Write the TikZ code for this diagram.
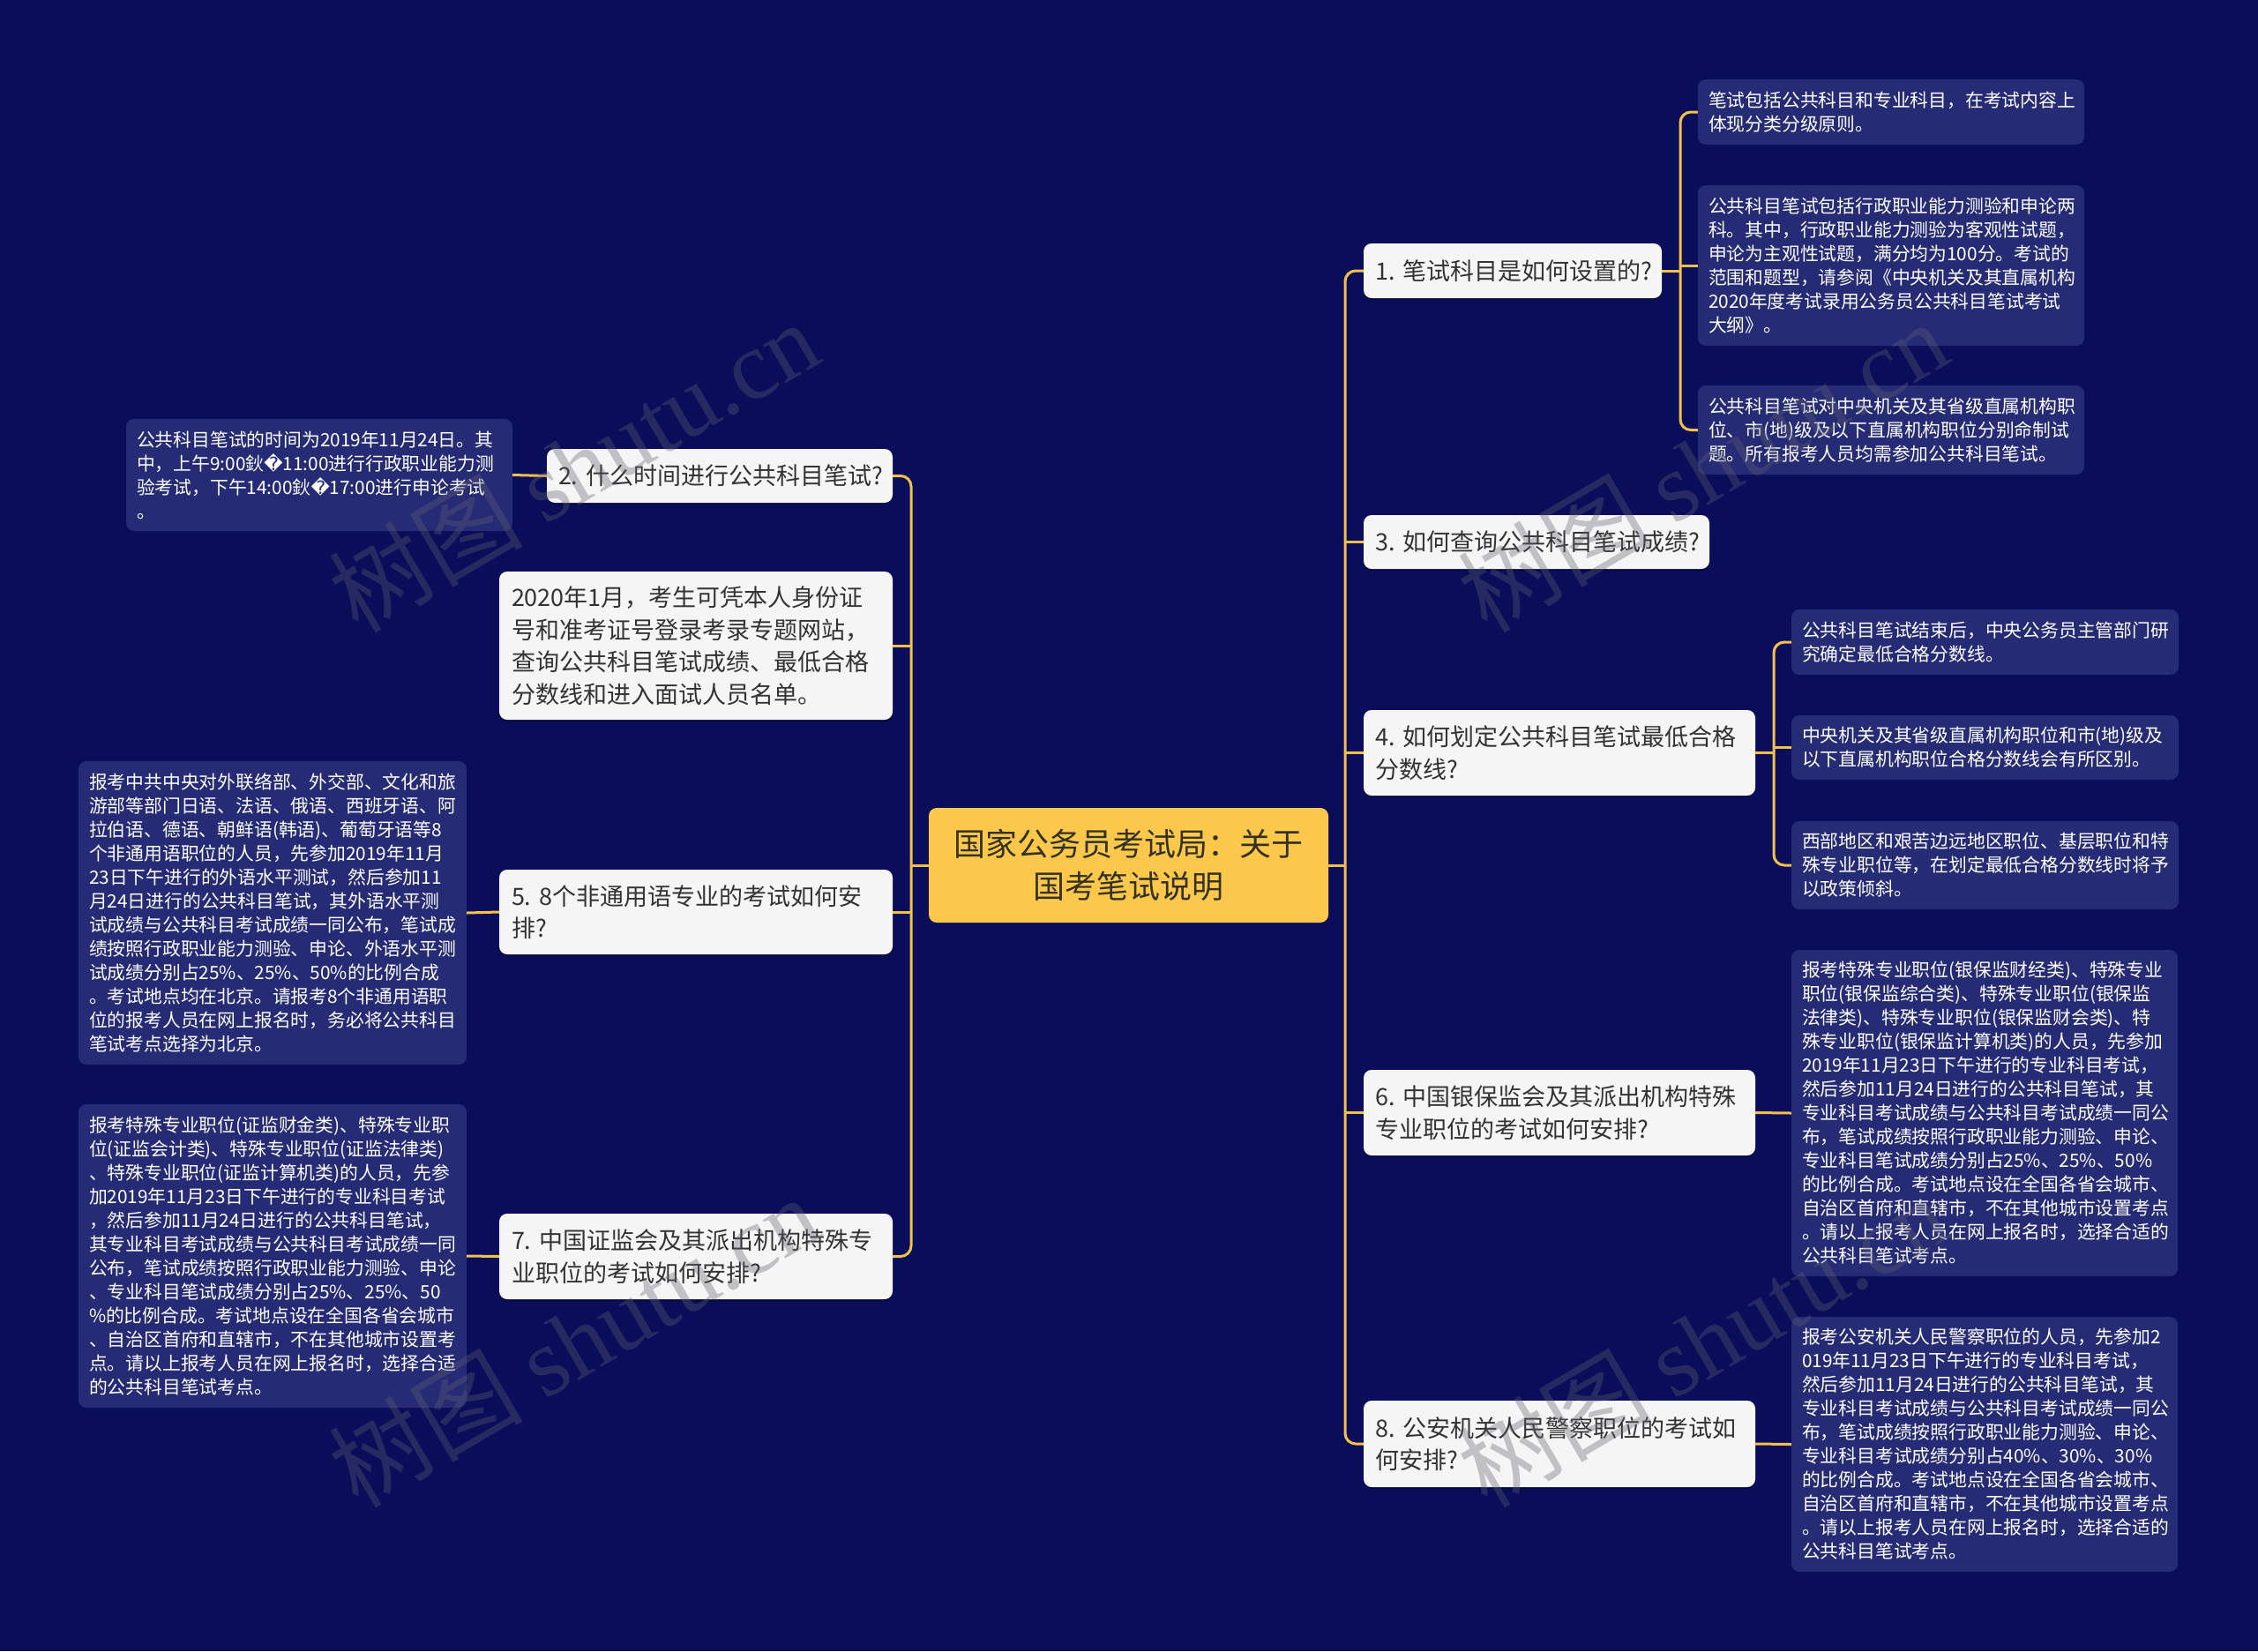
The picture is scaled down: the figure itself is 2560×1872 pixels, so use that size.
\documentclass[tikz,border=0pt]{standalone}
\usepackage{fontspec}
\setmainfont{Noto Sans CJK SC}
\newfontfamily\dejavu{DejaVu Sans}
\newfontfamily\wmserif{Liberation Serif}
\usetikzlibrary{shadows}
\definecolor{bgc}{RGB}{10,14,90}
\definecolor{leafc}{RGB}{38,43,118}
\definecolor{qc}{RGB}{245,245,245}
\definecolor{qtext}{RGB}{51,51,51}
\definecolor{rootc}{RGB}{252,200,76}
\definecolor{roottext}{RGB}{52,50,30}
\definecolor{connc}{RGB}{243,192,74}
\definecolor{wmc}{RGB}{95,95,110}
\newcommand\rep{{\dejavu\char"FFFD}}
\tikzset{
  conn/.style={draw=connc, line width=3pt, rounded corners=12pt},
  rootbox/.style={fill=rootc, rounded corners=9pt, text=roottext,
    font=\fontsize{36}{48}\selectfont, align=center, inner sep=0pt},
  qbox/.style={fill=qc, rounded corners=9pt, text=qtext,
    font=\fontsize{27}{36.5}\selectfont\frenchspacing, align=left, inner xsep=13pt, inner ysep=0pt,
    drop shadow={shadow xshift=0pt, shadow yshift=-2pt, fill=black, opacity=0.35}},
  leaf/.style={fill=leafc, rounded corners=9pt, text=white,
    font=\fontsize{20.8}{27}\selectfont, align=left, inner xsep=12pt, inner ysep=0pt},
  wm/.style={text=wmc, opacity=0.35, font=\fontsize{110}{110}\selectfont, inner sep=0pt}
}
\begin{document}
\frenchspacing
\begin{tikzpicture}[x=1pt,y=-1pt]
\useasboundingbox (0,0) rectangle (2560,1872);
\fill[bgc] (0,0) rectangle (2560,1872);

% root
\node[rootbox, minimum width=453pt, minimum height=130pt] (root) at (1279.5,981) {国家公务员考试局：关于\\国考笔试说明};

% right level 1
\node[qbox, minimum width=338pt, minimum height=62pt, text width=312pt] (n1) at (1715,307) {1.~笔试科目是如何设置的?};
\node[qbox, minimum width=392pt, minimum height=61pt, text width=366pt] (n3) at (1742,614.5) {3.~如何查询公共科目笔试成绩?};
\node[qbox, minimum width=444pt, minimum height=97pt, text width=418pt] (n4) at (1768,853.5) {4.~如何划定公共科目笔试最低合格\\分数线?};
\node[qbox, minimum width=444pt, minimum height=97pt, text width=418pt] (n6) at (1768,1261.5) {6.~中国银保监会及其派出机构特殊\\专业职位的考试如何安排?};
\node[qbox, minimum width=444pt, minimum height=98pt, text width=418pt] (n8) at (1768,1637) {8.~公安机关人民警察职位的考试如\\何安排?};

% left level 1
\node[qbox, minimum width=392pt, minimum height=61pt, text width=366pt] (n2) at (816,539.5) {2.~什么时间进行公共科目笔试?};
\node[qbox, minimum width=446pt, minimum height=168pt, text width=418pt] (n2020) at (789,732) {2020年1月，考生可凭本人身份证\\号和准考证号登录考录专题网站，\\查询公共科目笔试成绩、最低合格\\分数线和进入面试人员名单。};
\node[qbox, minimum width=446pt, minimum height=96pt, text width=418pt] (n5) at (789,1034) {5.~8个非通用语专业的考试如何安\\排?};
\node[qbox, minimum width=446pt, minimum height=97pt, text width=418pt] (n7) at (789,1424.5) {7.~中国证监会及其派出机构特殊专\\业职位的考试如何安排?};

% right leaves
\node[leaf, minimum width=438pt, minimum height=74pt, text width=414pt] (c1a) at (2144,127) {笔试包括公共科目和专业科目，在考试内容上\\体现分类分级原则。};
\node[leaf, minimum width=438pt, minimum height=182pt, text width=414pt] (c1b) at (2144,301) {公共科目笔试包括行政职业能力测验和申论两\\科。其中，行政职业能力测验为客观性试题，\\申论为主观性试题，满分均为100分。考试的\\范围和题型，请参阅《中央机关及其直属机构\\2020年度考试录用公务员公共科目笔试考试\\大纲》。};
\node[leaf, minimum width=438pt, minimum height=101pt, text width=414pt] (c1c) at (2144,487.5) {公共科目笔试对中央机关及其省级直属机构职\\位、市(地)级及以下直属机构职位分别命制试\\题。所有报考人员均需参加公共科目笔试。};
\node[leaf, minimum width=439pt, minimum height=74pt, text width=415pt] (c4a) at (2250.5,728) {公共科目笔试结束后，中央公务员主管部门研\\究确定最低合格分数线。};
\node[leaf, minimum width=439pt, minimum height=73pt, text width=415pt] (c4b) at (2250.5,847.5) {中央机关及其省级直属机构职位和市(地)级及\\以下直属机构职位合格分数线会有所区别。};
\node[leaf, minimum width=439pt, minimum height=100pt, text width=415pt] (c4c) at (2250.5,981) {西部地区和艰苦边远地区职位、基层职位和特\\殊专业职位等，在划定最低合格分数线时将予\\以政策倾斜。};
\node[leaf, minimum width=438pt, minimum height=370pt, text width=414pt] (c6) at (2250,1262) {报考特殊专业职位(银保监财经类)、特殊专业\\职位(银保监综合类)、特殊专业职位(银保监\\法律类)、特殊专业职位(银保监财会类)、特\\殊专业职位(银保监计算机类)的人员，先参加\\2019年11月23日下午进行的专业科目考试，\\然后参加11月24日进行的公共科目笔试，其\\专业科目考试成绩与公共科目考试成绩一同公\\布，笔试成绩按照行政职业能力测验、申论、\\专业科目笔试成绩分别占25\%、25\%、50\%\\的比例合成。考试地点设在全国各省会城市、\\自治区首府和直辖市，不在其他城市设置考点\\。请以上报考人员在网上报名时，选择合适的\\公共科目笔试考点。};
\node[leaf, minimum width=438pt, minimum height=289pt, text width=414pt] (c8) at (2250,1637.5) {报考公安机关人民警察职位的人员，先参加2\\019年11月23日下午进行的专业科目考试，\\然后参加11月24日进行的公共科目笔试，其\\专业科目考试成绩与公共科目考试成绩一同公\\布，笔试成绩按照行政职业能力测验、申论、\\专业科目考试成绩分别占40\%、30\%、30\%\\的比例合成。考试地点设在全国各省会城市、\\自治区首府和直辖市，不在其他城市设置考点\\。请以上报考人员在网上报名时，选择合适的\\公共科目笔试考点。};

% left leaves
\node[leaf, minimum width=438pt, minimum height=127pt, text width=414pt] (c2) at (362,538.5) {公共科目笔试的时间为2019年11月24日。其\\中，上午9:00鈥\rep11:00进行行政职业能力测\\验考试，下午14:00鈥\rep17:00进行申论考试\\。};
\node[leaf, minimum width=440pt, minimum height=344pt, text width=416pt] (c5) at (309,1035) {报考中共中央对外联络部、外交部、文化和旅\\游部等部门日语、法语、俄语、西班牙语、阿\\拉伯语、德语、朝鲜语(韩语)、葡萄牙语等8\\个非通用语职位的人员，先参加2019年11月\\23日下午进行的外语水平测试，然后参加11\\月24日进行的公共科目笔试，其外语水平测\\试成绩与公共科目考试成绩一同公布，笔试成\\绩按照行政职业能力测验、申论、外语水平测\\试成绩分别占25\%、25\%、50\%的比例合成\\。考试地点均在北京。请报考8个非通用语职\\位的报考人员在网上报名时，务必将公共科目\\笔试考点选择为北京。};
\node[leaf, minimum width=440pt, minimum height=344pt, text width=416pt] (c7) at (309,1424) {报考特殊专业职位(证监财金类)、特殊专业职\\位(证监会计类)、特殊专业职位(证监法律类)\\、特殊专业职位(证监计算机类)的人员，先参\\加2019年11月23日下午进行的专业科目考试\\，然后参加11月24日进行的公共科目笔试，\\其专业科目考试成绩与公共科目考试成绩一同\\公布，笔试成绩按照行政职业能力测验、申论\\、专业科目笔试成绩分别占25\%、25\%、50\\\%的比例合成。考试地点设在全国各省会城市\\、自治区首府和直辖市，不在其他城市设置考\\点。请以上报考人员在网上报名时，选择合适\\的公共科目笔试考点。};

% connectors right
\coordinate (rt) at (1525,981);
\draw[conn] (root.east) -- (rt);
\draw[conn] (n1.west) -| (rt) |- (n8.west);
\draw[conn] (rt |- n3.west) -- (n3.west);
\draw[conn] (rt |- n4.west) -- (n4.west);
\draw[conn] (rt |- n6.west) -- (n6.west);

\coordinate (t1) at (1905,307);
\draw[conn] (n1.east) -- (t1);
\draw[conn] (c1a.west) -| (t1) |- (c1c.west);
\draw[conn] (t1 |- c1b.west) -- (c1b.west);

\coordinate (t4) at (2011,853.5);
\draw[conn] (n4.east) -- (t4);
\draw[conn] (c4a.west) -| (t4) |- (c4c.west);
\draw[conn] (t4 |- c4b.west) -- (c4b.west);

\draw[conn] (n6.east) -- (c6.west);
\draw[conn] (n8.east) -- (c8.west);

% connectors left
\coordinate (lt) at (1033,981);
\draw[conn] (root.west) -- (lt);
\draw[conn] (n2.east) -| (lt) |- (n7.east);
\draw[conn] (lt |- n2020.east) -- (n2020.east);
\draw[conn] (lt |- n5.east) -- (n5.east);
\draw[conn] (n2.west) -- (c2.east);
\draw[conn] (n5.west) -- (c5.east);
\draw[conn] (n7.west) -- (c7.east);

% watermarks
\node[wm, rotate=30.4] (wm1) at (650,528) {树图 {\wmserif shutu.cn}};
\node[wm, rotate=30.4] (wm2) at (1930,528) {树图 {\wmserif shutu.cn}};
\node[wm, rotate=30.4] (wm3) at (650,1520) {树图 {\wmserif shutu.cn}};
\node[wm, rotate=30.4] (wm4) at (1930,1520) {树图 {\wmserif shutu.cn}};
\end{tikzpicture}
\end{document}
